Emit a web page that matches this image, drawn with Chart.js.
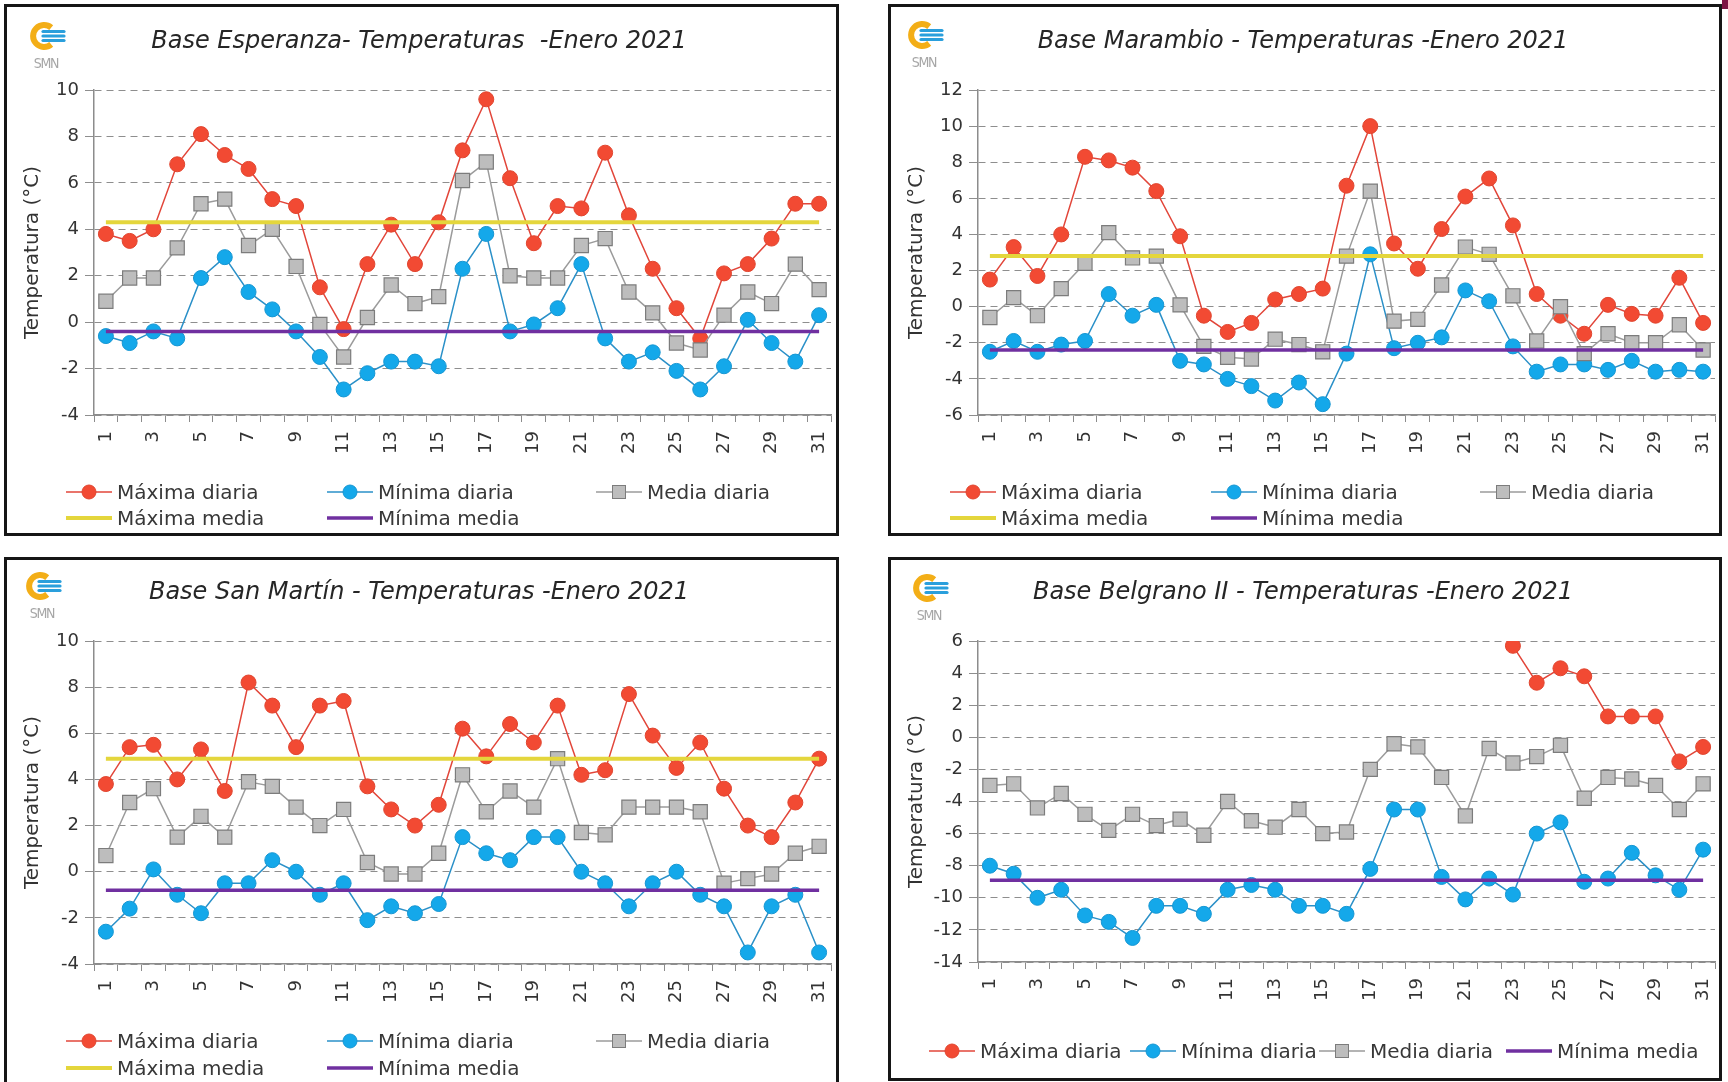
<!DOCTYPE html>
<html>
<head>
<meta charset="utf-8">
<script src="https://cdn.jsdelivr.net/npm/chart.js@4.4.1/dist/chart.umd.min.js"></script>
<style>
html,body{margin:0;padding:0;background:#fff;width:1728px;height:1082px;overflow:hidden;position:relative;font-family:"DejaVu Sans",sans-serif;}
.panel{position:absolute;border:3px solid #161616;box-sizing:border-box;background:#fff;overflow:hidden;}
.panel canvas{position:absolute;left:0;top:0;}
.logo{position:absolute;}
.li{position:absolute;display:flex;align-items:center;font-size:20px;color:#383838;white-space:nowrap;height:24px;line-height:24px;}
.li svg{display:block;margin-right:5px;}
.corner{position:absolute;left:1722px;top:0;width:6px;height:9px;background:#7d1444;}
</style>
</head>
<body>
<div class="corner"></div>
<script>
// ---------- DATA ----------
const days = ['1','2','3','4','5','6','7','8','9','10','11','12','13','14','15','16','17','18','19','20','21','22','23','24','25','26','27','28','29','30','31'];
const seriesNames = ['Máxima diaria','Mínima diaria','Media diaria','Máxima media','Mínima media'];
const yAxisTitle = 'Temperatura (°C)';

const esperanzaTitle = 'Base Esperanza- Temperaturas  -Enero 2021';
const esperanzaYRange = [-4, 10];
const esperanzaMax = [3.8,3.5,4.0,6.8,8.1,7.2,6.6,5.3,5.0,1.5,-0.3,2.5,4.2,2.5,4.3,7.4,9.6,6.2,3.4,5.0,4.9,7.3,4.6,2.3,0.6,-0.7,2.1,2.5,3.6,5.1,5.1];
const esperanzaMin = [-0.6,-0.9,-0.4,-0.7,1.9,2.8,1.3,0.55,-0.4,-1.5,-2.9,-2.2,-1.7,-1.7,-1.9,2.3,3.8,-0.4,-0.1,0.6,2.5,-0.7,-1.7,-1.3,-2.1,-2.9,-1.9,0.1,-0.9,-1.7,0.3];
const esperanzaMedia = [0.9,1.9,1.9,3.2,5.1,5.3,3.3,4.0,2.4,-0.1,-1.5,0.2,1.6,0.8,1.1,6.1,6.9,2.0,1.9,1.9,3.3,3.6,1.3,0.4,-0.9,-1.2,0.3,1.3,0.8,2.5,1.4];
const esperanzaMaxMedia = 4.3;
const esperanzaMinMedia = -0.4;

const marambioTitle = 'Base Marambio - Temperaturas -Enero 2021';
const marambioYRange = [-6, 12];
const marambioMax = [1.5,3.3,1.7,4.0,8.3,8.1,7.7,6.4,3.9,-0.5,-1.4,-0.9,0.4,0.7,1.0,6.7,10.0,3.5,2.1,4.3,6.1,7.1,4.5,0.7,-0.5,-1.5,0.1,-0.4,-0.5,1.6,-0.9];
const marambioMin = [-2.5,-1.9,-2.5,-2.1,-1.9,0.7,-0.5,0.1,-3.0,-3.2,-4.0,-4.4,-5.2,-4.2,-5.4,-2.6,2.9,-2.3,-2.0,-1.7,0.9,0.3,-2.2,-3.6,-3.2,-3.2,-3.5,-3.0,-3.6,-3.5,-3.6];
const marambioMedia = [-0.6,0.5,-0.5,1.0,2.4,4.1,2.7,2.8,0.1,-2.2,-2.8,-2.9,-1.8,-2.1,-2.5,2.8,6.4,-0.8,-0.7,1.2,3.3,2.9,0.6,-1.9,0.0,-2.6,-1.5,-2.0,-2.0,-1.0,-2.4];
const marambioMaxMedia = 2.8;
const marambioMinMedia = -2.4;

const sanMartinTitle = 'Base San Martín - Temperaturas -Enero 2021';
const sanMartinYRange = [-4, 10];
const sanMartinMax = [3.8,5.4,5.5,4.0,5.3,3.5,8.2,7.2,5.4,7.2,7.4,3.7,2.7,2.0,2.9,6.2,5.0,6.4,5.6,7.2,4.2,4.4,7.7,5.9,4.5,5.6,3.6,2.0,1.5,3.0,4.9];
const sanMartinMin = [-2.6,-1.6,0.1,-1.0,-1.8,-0.5,-0.5,0.5,0.0,-1.0,-0.5,-2.1,-1.5,-1.8,-1.4,1.5,0.8,0.5,1.5,1.5,0.0,-0.5,-1.5,-0.5,0.0,-1.0,-1.5,-3.5,-1.5,-1.0,-3.5];
const sanMartinMedia = [0.7,3.0,3.6,1.5,2.4,1.5,3.9,3.7,2.8,2.0,2.7,0.4,-0.1,-0.1,0.8,4.2,2.6,3.5,2.8,4.9,1.7,1.6,2.8,2.8,2.8,2.6,-0.5,-0.3,-0.1,0.8,1.1];
const sanMartinMaxMedia = 4.9;
const sanMartinMinMedia = -0.8;

const belgranoTitle = 'Base Belgrano II - Temperaturas -Enero 2021';
const belgranoYRange = [-14, 6];
const belgranoMax = [null,null,null,null,null,null,null,null,null,null,null,null,null,null,null,null,null,null,null,null,null,null,5.7,3.4,4.3,3.8,1.3,1.3,1.3,-1.5,-0.6];
const belgranoMin = [-8.0,-8.5,-10.0,-9.5,-11.1,-11.5,-12.5,-10.5,-10.5,-11.0,-9.5,-9.2,-9.5,-10.5,-10.5,-11.0,-8.2,-4.5,-4.5,-8.7,-10.1,-8.8,-9.8,-6.0,-5.3,-9.0,-8.8,-7.2,-8.6,-9.5,-7.0];
const belgranoMedia = [-3.0,-2.9,-4.4,-3.5,-4.8,-5.8,-4.8,-5.5,-5.1,-6.1,-4.0,-5.2,-5.6,-4.5,-6.0,-5.9,-2.0,-0.4,-0.6,-2.5,-4.9,-0.7,-1.6,-1.2,-0.5,-3.8,-2.5,-2.6,-3.0,-4.5,-2.9];
const belgranoMinMedia = -8.9;

// ---------- STYLE ----------
const FONT = "'DejaVu Sans', sans-serif";
Chart.defaults.font.family = FONT;
Chart.defaults.color = '#333';

function dsMax(data){return {label:seriesNames[0],data:data,borderColor:'#e2463a',borderWidth:1.5,pointStyle:'circle',pointRadius:7.5,pointBackgroundColor:'#f24a33',pointBorderColor:'#e0452f',pointBorderWidth:1,order:5,spanGaps:false};}
function dsMin(data){return {label:seriesNames[1],data:data,borderColor:'#2a90c8',borderWidth:1.5,pointStyle:'circle',pointRadius:7.5,pointBackgroundColor:'#14a8ea',pointBorderColor:'#1696d2',pointBorderWidth:1,order:4};}
function dsMedia(data){return {label:seriesNames[2],data:data,borderColor:'#9b9b9b',borderWidth:1.5,pointStyle:'rect',pointRadius:10,pointBackgroundColor:'#bdbdbd',pointBorderColor:'#7c7c7c',pointBorderWidth:1.2,order:3};}
function dsMaxMedia(v){return {label:seriesNames[3],data:[{x:days[0],y:v},{x:days[days.length-1],y:v}],borderColor:'#e4d63c',borderWidth:4,pointRadius:0,order:2};}
function dsMinMedia(v){return {label:seriesNames[4],data:[{x:days[0],y:v},{x:days[days.length-1],y:v}],borderColor:'#7030a0',borderWidth:3.5,pointRadius:0,order:1};}

function swatch(ds){
  const w=46,h=18,cy=9;
  let s='<svg width="'+w+'" height="'+h+'" viewBox="0 0 '+w+' '+h+'">';
  s+='<line x1="0" y1="'+cy+'" x2="'+w+'" y2="'+cy+'" stroke="'+ds.borderColor+'" stroke-width="'+ds.borderWidth+'"/>';
  if(ds.pointRadius>0){
    if(ds.pointStyle==='rect') s+='<rect x="'+(w/2-6.5)+'" y="'+(cy-6.5)+'" width="13" height="13" fill="'+ds.pointBackgroundColor+'" stroke="'+ds.pointBorderColor+'" stroke-width="1"/>';
    else s+='<circle cx="'+(w/2)+'" cy="'+cy+'" r="7" fill="'+ds.pointBackgroundColor+'" stroke="'+ds.pointBorderColor+'" stroke-width="1"/>';
  }
  return s+'</svg>';
}

function logoSVG(){
  return '<svg width="44" height="56" viewBox="0 0 44 56">'+
    '<path d="M 23.2 7.6 A 11 11 0 1 0 23.2 24.4" fill="none" stroke="#f3ae17" stroke-width="6"/>'+
    '<line x1="15" y1="11.5" x2="36" y2="11.5" stroke="#2a9fdc" stroke-width="3.2" stroke-linecap="round"/>'+
    '<line x1="15" y1="16" x2="36" y2="16" stroke="#2a9fdc" stroke-width="3.2" stroke-linecap="round"/>'+
    '<line x1="15" y1="20.5" x2="36" y2="20.5" stroke="#2a9fdc" stroke-width="3.2" stroke-linecap="round"/>'+
    '<text x="18" y="48" text-anchor="middle" font-family="DejaVu Sans Condensed, DejaVu Sans" font-size="14" letter-spacing="-1.2" fill="#a6a6a6">SMN</text>'+
    '</svg>';
}

function makePanel(cfg){
  const panel=document.createElement('div');
  panel.className='panel';
  panel.style.left=cfg.box[0]+'px'; panel.style.top=cfg.box[1]+'px';
  panel.style.width=cfg.box[2]+'px'; panel.style.height=cfg.box[3]+'px';
  document.body.appendChild(panel);
  const cw=cfg.box[2]-6, ch=cfg.box[3]-6;
  const canvas=document.createElement('canvas');
  canvas.width=cw; canvas.height=ch; canvas.style.width=cw+'px'; canvas.style.height=ch+'px';
  panel.appendChild(canvas);
  const [L,T,R,B]=cfg.area;
  const tLH=24*1.2;
  const tTop=cfg.titleY-tLH/2;
  const xH=50;
  const chart=new Chart(canvas,{
    type:'line',
    data:{labels:days,datasets:cfg.datasets},
    options:{
      responsive:false,animation:false,devicePixelRatio:1,
      layout:{autoPadding:false,padding:{left:0,top:0,right:Math.max(cw-R,0),bottom:ch-B-xH}},
      elements:{line:{tension:0}},
      plugins:{
        legend:{display:false},tooltip:{enabled:false},
        title:{display:true,text:cfg.title,color:'#262626',
          font:{size:24,style:'italic',weight:'normal',family:FONT,lineHeight:1.2},
          padding:{top:tTop,bottom:T-tTop-tLH}}
      },
      scales:{
        x:{type:'category',offset:true,
          afterFit:function(s){s.height=xH;s.paddingLeft=0;s.paddingRight=0;},
          ticks:{autoSkip:false,maxRotation:90,minRotation:90,padding:9,color:'#333',font:{size:18},
            callback:function(v,i){return i%2===0?this.getLabelForValue(v):'';}},
          grid:{drawOnChartArea:false,drawTicks:true,tickLength:7,color:'#8c8c8c',offset:true},
          border:{color:'#8c8c8c',width:1.5}
        },
        y:{min:cfg.yRange[0],max:cfg.yRange[1],
          afterFit:function(s){s.width=L;s.paddingTop=0;s.paddingBottom=0;},
          ticks:{stepSize:2,color:'#333',font:{size:18},padding:6},
          grid:{color:'#8e8e8e',lineWidth:1,tickLength:9,tickColor:'#8e8e8e'},
          border:{color:'#8c8c8c',width:1.5,dash:[7,5]},
          title:{display:true,text:yAxisTitle,color:'#333',font:{size:20},padding:{top:14,bottom:0}}
        }
      }
    }
  });
  const lg=document.createElement('div');
  lg.className='logo'; lg.style.left=(cfg.logo[0]-3)+'px'; lg.style.top=(cfg.logo[1]-3)+'px';
  lg.innerHTML=logoSVG();
  panel.appendChild(lg);
  const order=chart.data.datasets.slice().sort((a,b)=>b.order-a.order);
  order.forEach((ds,i)=>{
    const pos=cfg.legend[i];
    const it=document.createElement('div');
    it.className='li';
    it.style.left=(pos[0]-3)+'px'; it.style.top=(pos[1]-3-12)+'px';
    it.innerHTML=swatch(ds)+'<span>'+ds.label+'</span>';
    panel.appendChild(it);
  });
  return chart;
}

const cols3=[62,323,592];
makePanel({box:[4,4,835,532],area:[87,83,824,408],titleY:35,title:esperanzaTitle,yRange:esperanzaYRange,
  logo:[24,16],
  legend:[[cols3[0],488],[cols3[1],488],[cols3[2],488],[cols3[0],514],[cols3[1],514]],
  datasets:[dsMax(esperanzaMax),dsMin(esperanzaMin),dsMedia(esperanzaMedia),dsMaxMedia(esperanzaMaxMedia),dsMinMedia(esperanzaMinMedia)]});
makePanel({box:[888,4,834,532],area:[87,83,824,408],titleY:35,title:marambioTitle,yRange:marambioYRange,
  logo:[18,15],
  legend:[[cols3[0],488],[cols3[1],488],[cols3[2],488],[cols3[0],514],[cols3[1],514]],
  datasets:[dsMax(marambioMax),dsMin(marambioMin),dsMedia(marambioMedia),dsMaxMedia(marambioMaxMedia),dsMinMedia(marambioMinMedia)]});
makePanel({box:[4,557,835,540],area:[87,81,824,404],titleY:33,title:sanMartinTitle,yRange:sanMartinYRange,
  logo:[20,13],
  legend:[[cols3[0],484],[cols3[1],484],[cols3[2],484],[cols3[0],511],[cols3[1],511]],
  datasets:[dsMax(sanMartinMax),dsMin(sanMartinMin),dsMedia(sanMartinMedia),dsMaxMedia(sanMartinMaxMedia),dsMinMedia(sanMartinMinMedia)]});
makePanel({box:[888,557,834,524],area:[87,81,824,402],titleY:33,title:belgranoTitle,yRange:belgranoYRange,
  logo:[23,15],
  legend:[[41,494],[242,494],[431,494],[618,494]],
  datasets:[dsMax(belgranoMax),dsMin(belgranoMin),dsMedia(belgranoMedia),dsMinMedia(belgranoMinMedia)]});
</script>
</body>
</html>
